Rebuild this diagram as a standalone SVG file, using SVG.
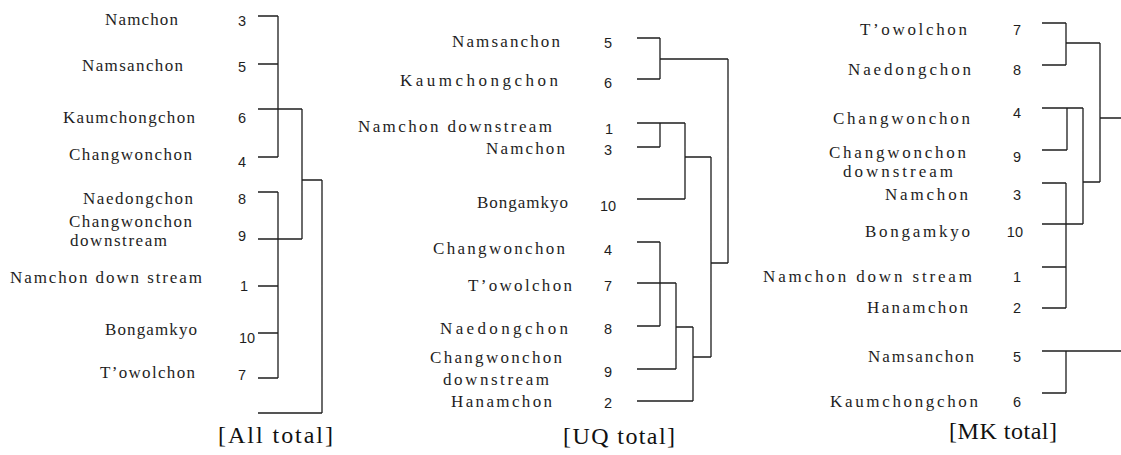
<svg xmlns="http://www.w3.org/2000/svg" width="1121" height="455" viewBox="0 0 1121 455">
  <style>
    .lbl { font-family: "Liberation Serif", "Times New Roman", serif; font-size: 17px; fill: #1e1e1e; }
    .num { font-family: "Liberation Sans", Arial, sans-serif; font-size: 14.5px; fill: #1e1e1e; text-anchor: middle; }
    .numr { font-family: "Liberation Sans", Arial, sans-serif; font-size: 14.5px; fill: #1e1e1e; text-anchor: end; }
    .cap { font-family: "Liberation Serif", "Times New Roman", serif; font-size: 24px; fill: #111; }
    .link { fill: none; stroke: #1e1e1e; stroke-width: 1.3; }
  </style>
  <rect width="1121" height="455" fill="#ffffff"/>

  <!-- All total dendrogram -->
  <g id="all-total">
    <g id="all-3"><text class="lbl" x="105" y="25" textLength="73" lengthAdjust="spacing">Namchon</text><text class="num" x="242" y="26">3</text></g>
    <g id="all-5"><text class="lbl" x="82" y="71" textLength="101" lengthAdjust="spacing">Namsanchon</text><text class="num" x="242" y="72">5</text></g>
    <g id="all-6"><text class="lbl" x="63" y="123" textLength="132" lengthAdjust="spacing">Kaumchongchon</text><text class="num" x="242" y="123">6</text></g>
    <g id="all-4"><text class="lbl" x="69" y="160" textLength="123" lengthAdjust="spacing">Changwonchon</text><text class="num" x="242" y="167">4</text></g>
    <g id="all-8"><text class="lbl" x="83" y="204" textLength="110" lengthAdjust="spacing">Naedongchon</text><text class="num" x="242" y="204">8</text></g>
    <g id="all-9"><text class="lbl" x="69" y="227" textLength="123" lengthAdjust="spacing">Changwonchon</text><text class="lbl" x="70" y="246" textLength="97" lengthAdjust="spacing">downstream</text><text class="num" x="242" y="241">9</text></g>
    <g id="all-1"><text class="lbl" x="10" y="283" textLength="192" lengthAdjust="spacing">Namchon down stream</text><text class="num" x="244" y="291">1</text></g>
    <g id="all-10"><text class="lbl" x="105" y="335" textLength="92" lengthAdjust="spacing">Bongamkyo</text><text class="num" x="247" y="343">10</text></g>
    <g id="all-7"><text class="lbl" x="100" y="378" textLength="95" lengthAdjust="spacing">T’owolchon</text><text class="num" x="242" y="380">7</text></g>
    <text class="cap" x="218" y="443" textLength="115" lengthAdjust="spacing">[All total]</text>
  </g>

  <!-- UQ total dendrogram -->
  <g id="uq-total">
    <g id="uq-5"><text class="lbl" x="452" y="47" textLength="108" lengthAdjust="spacing">Namsanchon</text><text class="num" x="608" y="48">5</text></g>
    <g id="uq-6"><text class="lbl" x="400" y="86" textLength="158" lengthAdjust="spacing">Kaumchongchon</text><text class="num" x="608" y="88">6</text></g>
    <g id="uq-1"><text class="lbl" x="358" y="132" textLength="194" lengthAdjust="spacing">Namchon downstream</text><text class="num" x="609" y="134">1</text></g>
    <g id="uq-3"><text class="lbl" x="486" y="154" textLength="79" lengthAdjust="spacing">Namchon</text><text class="num" x="608" y="155">3</text></g>
    <g id="uq-10"><text class="lbl" x="477" y="208" textLength="91" lengthAdjust="spacing">Bongamkyo</text><text class="num" x="608" y="211">10</text></g>
    <g id="uq-4"><text class="lbl" x="433" y="254" textLength="132" lengthAdjust="spacing">Changwonchon</text><text class="num" x="608" y="255">4</text></g>
    <g id="uq-7"><text class="lbl" x="468" y="291" textLength="104" lengthAdjust="spacing">T’owolchon</text><text class="num" x="608" y="291">7</text></g>
    <g id="uq-8"><text class="lbl" x="440" y="334" textLength="128" lengthAdjust="spacing">Naedongchon</text><text class="num" x="608" y="334">8</text></g>
    <g id="uq-9"><text class="lbl" x="430" y="363" textLength="132" lengthAdjust="spacing">Changwonchon</text><text class="lbl" x="443" y="385" textLength="106" lengthAdjust="spacing">downstream</text><text class="num" x="608" y="377">9</text></g>
    <g id="uq-2"><text class="lbl" x="451" y="407" textLength="101" lengthAdjust="spacing">Hanamchon</text><text class="num" x="608" y="408">2</text></g>
    <text class="cap" x="563" y="444" textLength="112" lengthAdjust="spacing">[UQ total]</text>
  </g>

  <!-- MK total dendrogram -->
  <g id="mk-total">
    <g id="mk-7"><text class="lbl" x="860" y="35" textLength="107" lengthAdjust="spacing">T’owolchon</text><text class="numr" x="1021" y="35">7</text></g>
    <g id="mk-8"><text class="lbl" x="848" y="75" textLength="123" lengthAdjust="spacing">Naedongchon</text><text class="numr" x="1021" y="75">8</text></g>
    <g id="mk-4"><text class="lbl" x="833" y="124" textLength="137" lengthAdjust="spacing">Changwonchon</text><text class="numr" x="1021" y="118">4</text></g>
    <g id="mk-9"><text class="lbl" x="829" y="158" textLength="137" lengthAdjust="spacing">Changwonchon</text><text class="lbl" x="843" y="177" textLength="110" lengthAdjust="spacing">downstream</text><text class="numr" x="1021" y="162">9</text></g>
    <g id="mk-3"><text class="lbl" x="885" y="200" textLength="83" lengthAdjust="spacing">Namchon</text><text class="numr" x="1021" y="200">3</text></g>
    <g id="mk-10"><text class="lbl" x="865" y="237" textLength="105" lengthAdjust="spacing">Bongamkyo</text><text class="numr" x="1023" y="237">10</text></g>
    <g id="mk-1"><text class="lbl" x="763" y="282" textLength="209" lengthAdjust="spacing">Namchon down stream</text><text class="numr" x="1021" y="282">1</text></g>
    <g id="mk-2"><text class="lbl" x="867" y="313" textLength="101" lengthAdjust="spacing">Hanamchon</text><text class="numr" x="1021" y="313">2</text></g>
    <g id="mk-5"><text class="lbl" x="868" y="362" textLength="106" lengthAdjust="spacing">Namsanchon</text><text class="numr" x="1021" y="362">5</text></g>
    <g id="mk-6"><text class="lbl" x="830" y="407" textLength="148" lengthAdjust="spacing">Kaumchongchon</text><text class="numr" x="1021" y="407">6</text></g>
    <text class="cap" x="949" y="439" textLength="108" lengthAdjust="spacing">[MK total]</text>
  </g>

  <!-- dendrogram branches -->
  <g id="connectors" class="link">
    <path class="link" d="M258 16H278 M258 64H278 M258 109H302 M258 157H278 M278 16V157
      M258 192H278 M258 239H302 M258 286H278 M258 333H278 M258 378H278 M278 192V378
      M302 109V239 M302 180H322 M322 180V413 M258 413H322"/>
    <path class="link" d="M637 38H660 M637 79H660 M660 38V79 M660 59H728 M728 59V263
      M637 123H685 M637 147H660 M660 123V147 M637 199H685 M685 123V199 M685 157H711 M711 157V357 M711 263H728
      M637 242H660 M660 242V326 M637 283H676 M637 326H660 M676 283V369 M637 369H676 M676 327H693 M693 327V401 M637 401H693 M693 357H711"/>
    <path class="link" d="M1042 23H1066 M1042 65H1066 M1066 23V65 M1066 43H1100 M1100 43V182 M1100 118H1121
      M1042 108H1083 M1067 108V150 M1042 150H1067 M1083 108V224 M1083 182H1100
      M1042 183H1066 M1066 183V308 M1042 224H1083 M1042 267H1066 M1042 308H1066
      M1042 351H1121 M1066 351V393 M1042 393H1066"/>
  </g>
</svg>
